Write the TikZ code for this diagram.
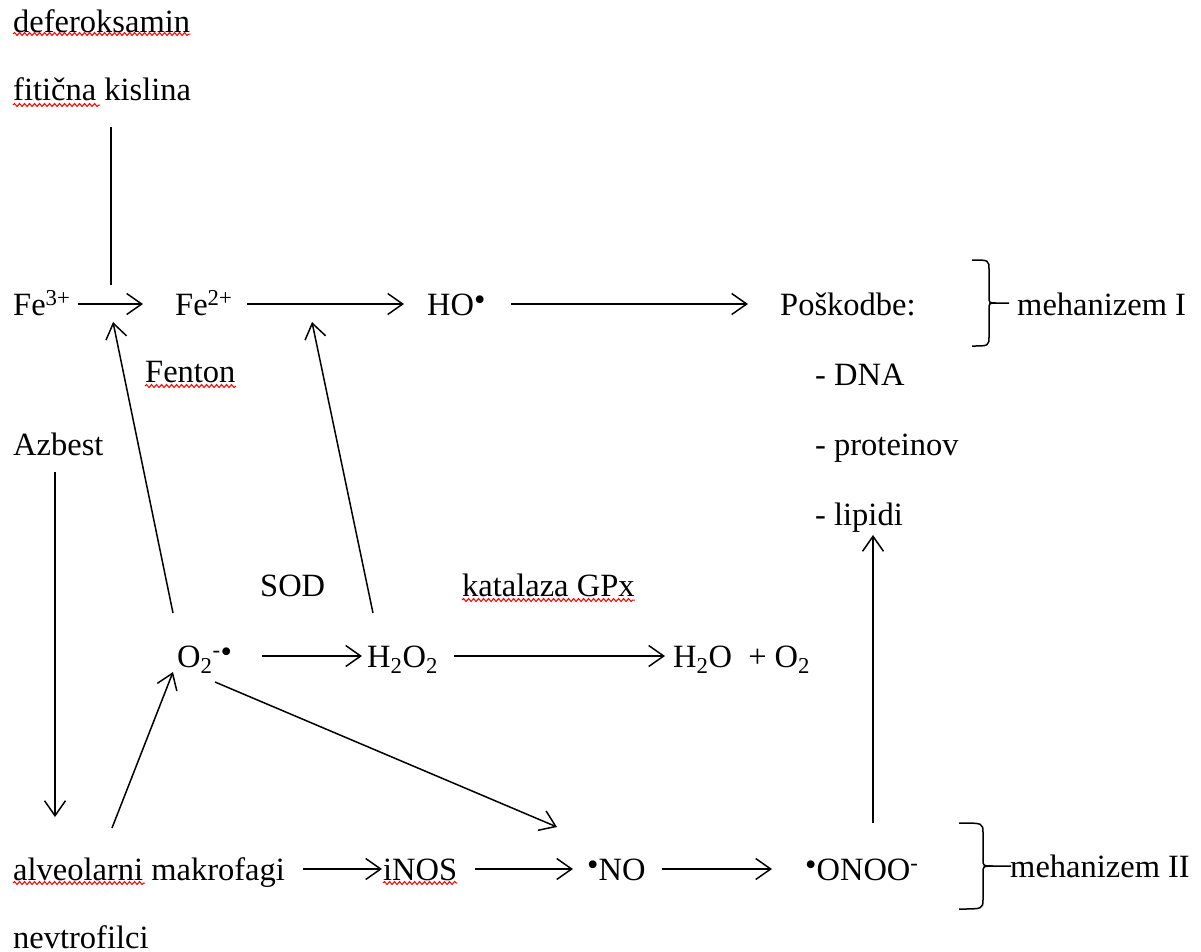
\documentclass[tikz,border=0pt]{standalone}
\usepackage{fontspec}
\setmainfont{Liberation Serif}
\usetikzlibrary{arrows.meta,decorations.pathmorphing}

\newcommand{\rad}{\raisebox{0.15em}{\textbullet}}

\tikzset{
  besedilo/.style={anchor=base west, inner sep=0pt, text height=27.5pt, text depth=5.5pt,
    font=\fontsize{32.5}{39}\selectfont},
  crta/.style={line width=1.5pt},
  puscica/.style={crta, -{Straight Barb[length=15pt,width=21pt,line width=1.5pt]}},
  vijuga/.style={draw=red, line width=1pt, decorate,
    decoration={snake, amplitude=1.5pt, segment length=5pt}},
  oklepaj/.pic={
    \draw[crta] (-17,-43) .. controls (0,-43) .. (0,-33) -- (0,-7) .. controls (0,0) .. (7,0) -- (20,0);
    \draw[crta] (7,0) .. controls (0,0) .. (0,7) -- (0,33) .. controls (0,43) .. (-17,43);
  }
}

\begin{document}
\begin{tikzpicture}[x=1pt, y=-1pt]
  \useasboundingbox (0,0) rectangle (1201,951);

  \node[besedilo] (defer) at (13,32) {deferoksamin};
  \node[besedilo] (fitic) at (13,100) {fitična kislina};

  \node[besedilo] (fe3) at (13,315) {Fe\textsuperscript{3+}};
  \node[besedilo] (fe2) at (175,315) {Fe\textsuperscript{2+}};
  \node[besedilo] (ho) at (427,315) {HO\rad};
  \node[besedilo] (posk) at (780,315) {Poškodbe:};
  \node[besedilo] (mehI) at (1017,315) {mehanizem I};

  \node[besedilo] (fenton) at (145,382) {Fenton};
  \node[besedilo] (dna) at (815,385) {- DNA};
  \node[besedilo] (azbest) at (13,455) {Azbest};
  \node[besedilo] (prot) at (815,455) {- proteinov};
  \node[besedilo] (lip) at (815,525) {- lipidi};

  \node[besedilo] (sod) at (260,596) {SOD};
  \node[besedilo] (kat) at (462,596) {katalaza GPx};

  \node[besedilo] (o2) at (177,667) {O\textsubscript{2}\textsuperscript{-}\rad};
  \node[besedilo] (h2o2) at (367,667) {H\textsubscript{2}O\textsubscript{2}};
  \node[besedilo] (h2o) at (673,667) {H\textsubscript{2}O\ \ + O\textsubscript{2}};

  \node[besedilo] (alv) at (13,880) {alveolarni makrofagi};
  \node[besedilo] (inos) at (383,880) {iNOS};
  \node[besedilo] (no) at (587,880) {\rad NO};
  \node[besedilo] (onoo) at (805,880) {\rad ONOO\textsuperscript{-}};
  \node[besedilo] (mehII) at (1010,877) {mehanizem II};
  \node[besedilo] (nevtr) at (13,948) {nevtrofilci};

  % vodoravne puscice
  \draw[puscica, shorten <=7pt, shorten >=32pt] (fe3.east) -- (fe2.west);
  \draw[puscica, shorten <=14pt, shorten >=23pt] (fe2.east) -- (ho.west);
  \draw[puscica, shorten <=25pt, shorten >=32pt] (ho.east) -- (posk.west);
  \draw[puscica, shorten <=30pt, shorten >=5pt] (o2.east) -- (h2o2.west);
  \draw[puscica, shorten <=16pt, shorten >=8pt] (h2o2.east) -- (h2o.west);
  \draw[puscica, shorten <=18pt, shorten >=1pt] (alv.east) -- (inos.west);
  \draw[puscica, shorten <=18pt, shorten >=14pt] (inos.east) -- (no.west);
  \draw[puscica, shorten <=16pt, shorten >=33pt] (no.east) -- (onoo.west);

  % navpicne in posevne
  \draw[crta] ([shift={(98,27)}]fitic.base west) -- ([shift={(98,-30)}]fe3.base west);
  \draw[puscica] ([shift={(-4,-54)}]o2.base west) -- ([shift={(100,7)}]fe3.base west);
  \draw[puscica] ([shift={(6,-54)}]h2o2.base west) -- ([shift={(137,7)}]fe2.base west);
  \draw[puscica] ([shift={(38,15)}]o2.base west) -- ([shift={(-30,-53)}]no.base west);
  \draw[puscica] ([shift={(99,-52)}]alv.base west) -- ([shift={(-4,5)}]o2.base west);
  \draw[puscica] ([shift={(42,17)}]azbest.base west) -- ([shift={(42,-63)}]alv.base west);
  \draw[puscica] ([shift={(68,-57)}]onoo.base west) -- ([shift={(58,10)}]lip.base west);

  \pic at (989,303) {oklepaj};
  \pic[xscale=1.4] at (983,866) {oklepaj};

  % rdece vijuge
  \draw[vijuga] ([yshift=-2pt]defer.base west) -- ([yshift=-2pt]defer.base east);
  \draw[vijuga] ([yshift=-5pt]fitic.base west) -- ++(87,0);
  \draw[vijuga] ([yshift=-4pt]fenton.base west) -- ([yshift=-4pt]fenton.base east);
  \draw[vijuga] ([yshift=-4pt]kat.base west) -- ([yshift=-4pt]kat.base east);
  \draw[vijuga] ([yshift=-3pt]alv.base west) -- ++(132,0);
  \draw[vijuga] ([yshift=-3pt]inos.base west) -- ([yshift=-3pt]inos.base east);
\end{tikzpicture}
\end{document}
